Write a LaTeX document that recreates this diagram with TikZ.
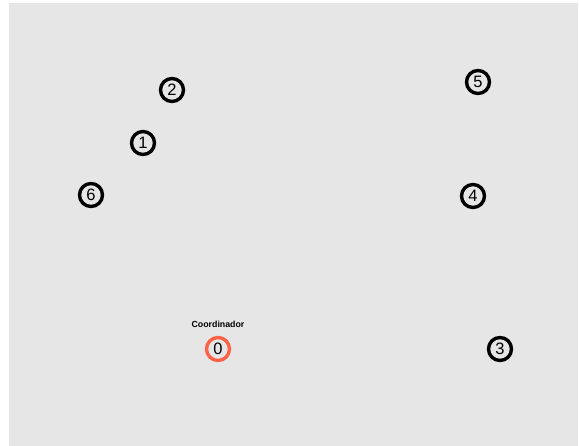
\documentclass[tikz,border=0pt]{standalone}
\usepackage{fontspec}
\setmainfont{Liberation Sans}
\definecolor{bggray}{HTML}{E6E6E6}
\definecolor{coordred}{HTML}{FF6347}
\begin{document}
\begin{tikzpicture}[x=1pt,y=-1pt,
  proc/.style={circle,draw=black,line width=3.4pt,minimum size=23pt,inner sep=0pt,
    font=\fontsize{16.5}{16.5}\selectfont},
  coord/.style={proc,draw=coordred},
  lbl/.style={font=\bfseries\fontsize{8.8}{9}\selectfont,inner sep=0pt}]
\useasboundingbox (0,0) rectangle (580,446);
\fill[white] (0,0) rectangle (580,446);
\fill[bggray] (9,3) rectangle (578,446);
\node[proc] (n2) at (172,90) {2};
\node[proc] (n1) at (143,143) {1};
\node[proc] (n6) at (91,195) {6};
\node[proc] (n5) at (478,82) {5};
\node[proc] (n4) at (473,196) {4};
\node[proc] (n3) at (500,349) {3};
\node[coord] (n0) at (218,349) {0};
\node[lbl] (l0) at (218,324) {Coordinador};
\end{tikzpicture}
\end{document}
